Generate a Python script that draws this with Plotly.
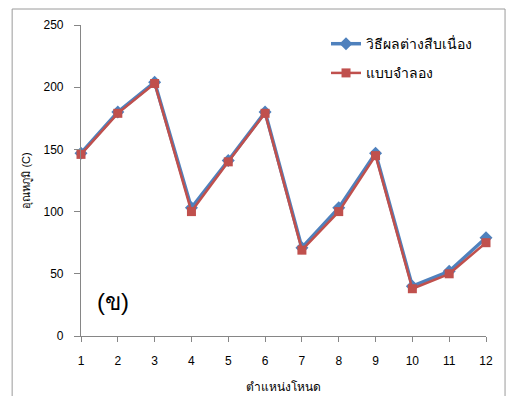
import plotly.graph_objects as go

nodes = [1, 2, 3, 4, 5, 6, 7, 8, 9, 10, 11, 12]
finite_diff = [147, 180, 204, 103, 141, 180, 71, 103, 147, 40, 52, 79]
simulation = [146, 179, 203, 100, 140, 179, 69, 100, 145, 38, 50, 75]
series_names = ["วิธีผลต่างสืบเนื่อง", "แบบจำลอง"]
y_ticks = [0, 50, 100, 150, 200, 250]

FONT = "Liberation Sans, Arial, sans-serif"

fig = go.Figure()
fig.add_trace(go.Scatter(
    x=nodes, y=finite_diff, name=series_names[0], mode="lines+markers",
    legendgroup="a",
    line=dict(color="#4F81BD", width=3.5),
    marker=dict(symbol="diamond", size=10, color="#4F81BD"),
    cliponaxis=False,
))
fig.add_trace(go.Scatter(
    x=nodes, y=simulation, name=series_names[1], mode="lines+markers",
    legendgroup="b",
    line=dict(color="#C0504D", width=2.5),
    marker=dict(symbol="square", size=9, color="#C0504D"),
    cliponaxis=False,
))

fig.update_layout(
    width=506, height=396,
    margin=dict(l=81, r=20, t=25, b=60),
    paper_bgcolor="white", plot_bgcolor="white",
    font=dict(family=FONT, size=12, color="#000000"),
    showlegend=True,
    legend=dict(x=0.605, y=0.99, xanchor="left", yanchor="top",
                bgcolor="rgba(0,0,0,0)", font=dict(size=14),
                itemwidth=30, tracegroupgap=8),
    xaxis=dict(range=[1, 12], tickmode="array", tickvals=nodes,
               showgrid=False, zeroline=False, showline=True, automargin=False,
               linecolor="#868686", linewidth=1.2, ticks="outside",
               ticklen=5, tickcolor="#868686", ticklabelstandoff=8,
               title=dict(text="ตำแหน่งโหนด", font=dict(size=12), standoff=16)),
    yaxis=dict(range=[0, 250], tickmode="array", tickvals=y_ticks,
               showgrid=False, zeroline=False, showline=True, automargin=False,
               linecolor="#868686", linewidth=1.2, ticks="outside",
               ticklen=6, tickcolor="#868686", ticklabelstandoff=8,
               title=dict(text="อุณหภูมิ (C)", font=dict(size=11), standoff=10)),
    shapes=[dict(type="rect", xref="paper", yref="paper",
                 x0=-0.170, x1=1.047, y0=-0.25, y1=1.0514,
                 line=dict(color="#9a9a9a", width=1), fillcolor="rgba(0,0,0,0)")],
    annotations=[dict(text="(ข)", xref="paper", yref="paper", x=0.035, y=0.11,
                      xanchor="left", yanchor="middle", showarrow=False,
                      font=dict(size=24, color="#000000"))],
)

fig.write_html("out.html", config={"displayModeBar": False},
               post_script="document.body.style.margin='0';")
